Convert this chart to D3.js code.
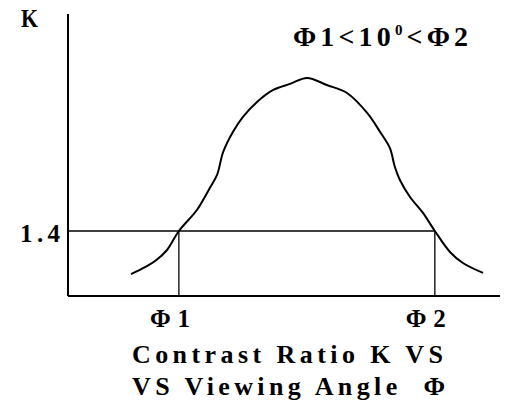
<!DOCTYPE html>
<html>
<head>
<meta charset="utf-8">
<script src="https://cdn.jsdelivr.net/npm/d3@7"></script>
<style>
html,body{margin:0;padding:0;background:#fff;}
text{font-family:"Liberation Serif","Times New Roman",serif;font-weight:bold;fill:#000;white-space:pre;}
</style>
</head>
<body>
<svg id="chart" width="505" height="400"></svg>
<script>
// Viewing angle (arbitrary units along the axis) and contrast ratio K
const angles = [17.5, 21.4, 24.2, 27.5, 30.8, 35.8, 39.4, 41.4, 43.1, 45.8, 48.6, 52.5, 57.0, 61.7, 66.4,
                71.9, 77.5, 83.1, 86.7, 89.4, 90.8, 92.2, 95.0, 98.6, 101.9, 106.1, 109.7, 115.3];
const kValues = [1.135, 1.178, 1.215, 1.283, 1.40, 1.529, 1.665, 1.745, 1.886, 2.009, 2.102, 2.194, 2.268, 2.305, 2.342,
                 2.298, 2.249, 2.126, 2.009, 1.911, 1.794, 1.714, 1.609, 1.511, 1.40, 1.271, 1.203, 1.142];
const kThreshold = 1.4;
const phiAngles = [30.8, 101.9];
const phiLabels = ["Φ1", "Φ2"];
const yLabel = "K";
const kLabel = "1.4";
const titleParts = ["Φ1<10", "0", "<Φ2"];
const captionLines = ["Contrast Ratio K VS", "VS Viewing Angle  Φ"];

const svg = d3.select("#chart");
const x = d3.scaleLinear().domain([0, 120]).range([68, 500]);
const y = d3.scaleLinear().domain([1, 2.735]).range([296, 14]);

// axes
svg.append("line").attr("x1", x(0)).attr("x2", x(0)).attr("y1", y(2.735)).attr("y2", y(1))
  .attr("stroke", "#000").attr("stroke-width", 2);
svg.append("line").attr("x1", x(0)).attr("x2", x(120)).attr("y1", y(1)).attr("y2", y(1))
  .attr("stroke", "#000").attr("stroke-width", 2);

// threshold line
svg.append("line").attr("x1", x(0)).attr("x2", x(phiAngles[1])).attr("y1", y(kThreshold)).attr("y2", y(kThreshold))
  .attr("stroke", "#000").attr("stroke-width", 1.6);
// vertical drops
svg.selectAll("line.drop").data(phiAngles).enter().append("line").attr("class", "drop")
  .attr("x1", d => x(d)).attr("x2", d => x(d)).attr("y1", y(kThreshold)).attr("y2", y(1))
  .attr("stroke", "#000").attr("stroke-width", 1.3);

// curve
const pts = angles.map((a, i) => [a, kValues[i]]);
svg.append("path").datum(pts)
  .attr("d", d3.line().x(d => x(d[0])).y(d => y(d[1])).curve(d3.curveCatmullRom.alpha(0.5)))
  .attr("fill", "none").attr("stroke", "#000").attr("stroke-width", 2);

// labels
svg.append("text").attr("x", 21).attr("y", 27).attr("font-size", 25)
  .attr("textLength", 17).attr("lengthAdjust", "spacingAndGlyphs").text(yLabel);
svg.append("text").attr("x", 20).attr("y", 242).attr("font-size", 25)
  .attr("textLength", 40).attr("lengthAdjust", "spacing").text(kLabel);

svg.selectAll("text.phi").data(phiAngles).enter().append("text").attr("class", "phi")
  .attr("x", d => x(d) - 29).attr("y", 327).attr("font-size", 25)
  .attr("textLength", 40).attr("lengthAdjust", "spacing")
  .text((d, i) => phiLabels[i]);

const t = svg.append("text").attr("x", 293).attr("y", 46).attr("font-size", 28)
  .attr("textLength", 175).attr("lengthAdjust", "spacing");
t.append("tspan").text(titleParts[0]);
t.append("tspan").attr("font-size", 15).attr("dy", -11).text(titleParts[1]);
t.append("tspan").attr("dy", 11).text(titleParts[2]);

svg.selectAll("text.cap").data(captionLines).enter().append("text").attr("class", "cap")
  .attr("x", 132).attr("y", (d, i) => 363 + i * 32).attr("font-size", 26)
  .attr("textLength", (d, i) => i === 0 ? 311 : 313).attr("lengthAdjust", "spacing")
  .text(d => d);
</script>
</body>
</html>
